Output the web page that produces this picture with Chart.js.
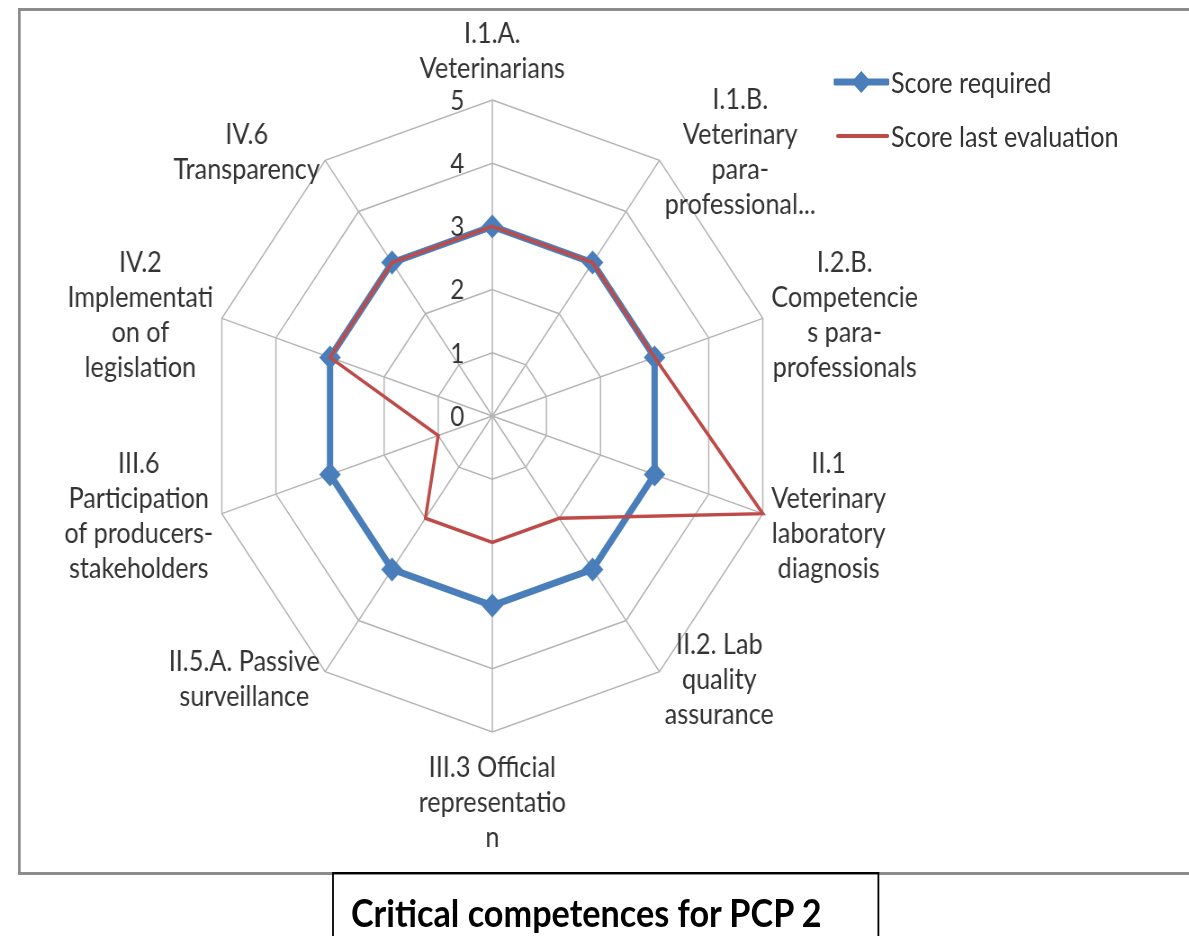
<!DOCTYPE html>
<html>
<head>
<meta charset="utf-8">
<script src="https://cdn.jsdelivr.net/npm/chart.js@4.4.1/dist/chart.umd.min.js"></script>
<style>
  html, body { margin: 0; padding: 0; background: #fff; overflow: hidden; }
  #page {
    position: absolute; left: 0; top: 0; width: 1321px; height: 936px;
    transform: scaleX(0.9); transform-origin: 0 0;
    font-family: Lato, sans-serif; color: #333;
  }
  #frame {
    position: absolute; left: 20px; top: 8px; width: 1400px; height: 867px;
    border: 3px solid #8c8c8c; box-sizing: border-box;
  }
  #radar { position: absolute; left: 0; top: 0; }
  .legend-item { position: absolute; font-size: 28px; line-height: 34px; white-space: nowrap; }
  .legend-item svg { position: absolute; }
  #title {
    position: absolute; left: 369px; top: 872px; width: 608px; height: 90px;
    border: 2px solid #000; box-sizing: border-box;
    font-weight: bold; font-size: 38px; line-height: 44px;
    padding: 16px 0 0 19px; color: #000; white-space: nowrap;
  }
</style>
</head>
<body>
<div id="page">
  <div id="frame"></div>
  <canvas id="radar" width="1321" height="872"></canvas>
  <div class="legend-item" style="left:926px; top:65px;">
    <svg width="62" height="34" style="left:0; top:0;">
      <line x1="2" y1="17" x2="60" y2="17" stroke="#4a7ebb" stroke-width="7" stroke-linecap="round"/>
      <polygon points="31,6 42,17 31,28 20,17" fill="#4a7ebb"/>
    </svg>
    <span style="margin-left:64px;">Score required</span>
  </div>
  <div class="legend-item" style="left:926px; top:119px;">
    <svg width="62" height="34" style="left:0; top:0;">
      <line x1="5" y1="17" x2="60" y2="17" stroke="#be4b48" stroke-width="4" stroke-linecap="round"/>
    </svg>
    <span style="margin-left:64px;">Score last evaluation</span>
  </div>
  <div id="title">Critical competences for PCP 2</div>
</div>

<script>
// categories, clockwise from the top, split the way the original wraps them
const categories = [
  ['I.1.A.', 'Veterinarians'],
  ['I.1.B.', 'Veterinary', 'para-', 'professional...'],
  ['I.2.B.', 'Competencie', 's para-', 'professionals'],
  ['II.1', 'Veterinary', 'laboratory', 'diagnosis'],
  ['II.2. Lab', 'quality', 'assurance'],
  ['III.3 Official', 'representatio', 'n'],
  ['II.5.A. Passive', 'surveillance'],
  ['III.6', 'Participation', 'of producers-', 'stakeholders'],
  ['IV.2', 'Implementati', 'on of', 'legislation'],
  ['IV.6', 'Transparency'],
];
const scoreRequired = [3, 3, 3, 3, 3, 3, 3, 3, 3, 3];
const scoreLastEvaluation = [3, 3, 3, 5, 2, 2, 2, 1, 3, 3];
const tickValues = [0, 1, 2, 3, 4, 5];

const LINE_H = 35;

// excel-style labels: ticks left of the axis, category blocks centred on their spoke
const excelLabels = {
  id: 'excelLabels',
  afterDraw(chart) {
    const scale = chart.scales.r;
    const ctx = chart.ctx;
    ctx.save();
    ctx.fillStyle = '#333';
    ctx.textBaseline = 'middle';

    ctx.font = '27px Lato';
    ctx.textAlign = 'right';
    tickValues.forEach((v) => {
      const d = scale.getDistanceFromCenterForValue(v);
      ctx.fillText(String(v), scale.xCenter - 31, scale.yCenter - d + 1);
    });

    ctx.font = '28px Lato';
    ctx.textAlign = 'center';
    const n = categories.length;
    categories.forEach((lines, i) => {
      const angle = (360 / n) * i;
      const p = scale.getPointPosition(i, scale.drawingArea + 10);
      const h = lines.length * LINE_H;
      const w = Math.max(...lines.map((l) => ctx.measureText(l).width));
      let left, top;
      if (angle === 0) {
        left = p.x - w / 2; top = p.y - 4 - h;
      } else if (angle === 180) {
        left = p.x - w / 2; top = p.y + 8;
      } else if (angle < 180) {
        left = p.x; top = p.y - h / 2;
      } else {
        left = p.x - w; top = p.y - h / 2;
      }
      lines.forEach((l, k) => ctx.fillText(l, left + w / 2, top + LINE_H * k + LINE_H / 2));
    });
    ctx.restore();
  },
};

function draw() {
  new Chart(document.getElementById('radar'), {
    type: 'radar',
    data: {
      labels: categories,
      datasets: [
        {
          label: 'Score required',
          data: scoreRequired,
          borderColor: '#4a7ebb',
          backgroundColor: '#4a7ebb',
          borderWidth: 7,
          pointStyle: 'rectRot',
          pointRadius: 12,
          pointBorderWidth: 0,
          pointBackgroundColor: '#4a7ebb',
          fill: false,
          order: 2,
        },
        {
          label: 'Score last evaluation',
          data: scoreLastEvaluation,
          borderColor: '#be4b48',
          backgroundColor: '#be4b48',
          borderWidth: 3.5,
          pointRadius: 0,
          fill: false,
          order: 1,
        },
      ],
    },
    options: {
      responsive: false,
      animation: false,
      devicePixelRatio: 1,
      layout: { padding: { left: 231, right: 458, top: 100, bottom: 140 } },
      plugins: { legend: { display: false }, tooltip: { enabled: false } },
      scales: {
        r: {
          min: 0,
          max: 5,
          ticks: { stepSize: 1, display: false },
          pointLabels: { display: false },
          grid: { color: '#b4b4b4', lineWidth: 1.5 },
          angleLines: { color: '#b4b4b4', lineWidth: 1.5 },
        },
      },
    },
    plugins: [excelLabels],
  });
}

document.fonts.load('28px Lato').then(draw, draw);
</script>
</body>
</html>
